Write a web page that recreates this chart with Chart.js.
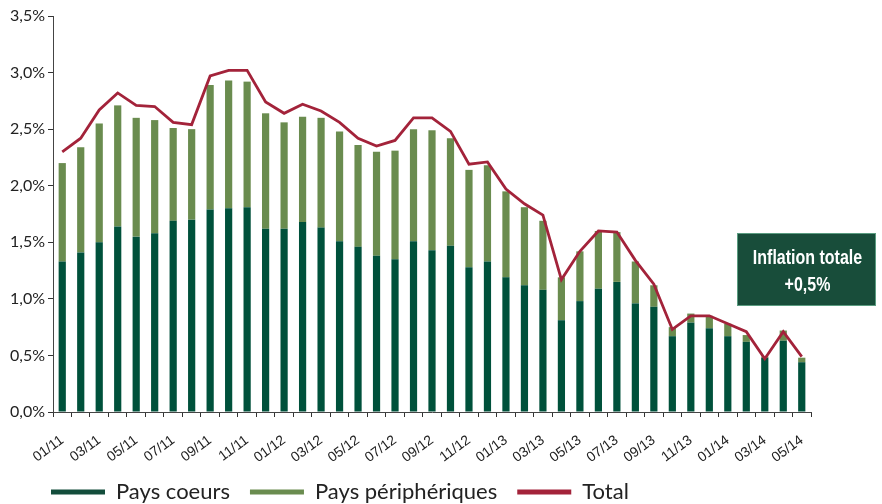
<!DOCTYPE html>
<html><head><meta charset="utf-8">
<script src="https://cdn.jsdelivr.net/npm/chart.js@4"></script>
<style>html,body{margin:0;padding:0;background:#fff}#w{width:882px;height:504px}</style>
</head><body><div id="w"><canvas id="c" width="882" height="504"></canvas></div>
<script>
const months = ["01/11","02/11","03/11","04/11","05/11","06/11","07/11","08/11","09/11","10/11","11/11","12/11",
"01/12","02/12","03/12","04/12","05/12","06/12","07/12","08/12","09/12","10/12","11/12","12/12",
"01/13","02/13","03/13","04/13","05/13","06/13","07/13","08/13","09/13","10/13","11/13","12/13",
"01/14","02/14","03/14","04/14","05/14"];
const paysCoeurs = [1.33,1.41,1.50,1.64,1.55,1.58,1.69,1.70,1.79,1.80,1.81,1.62,1.62,1.68,1.63,1.51,1.46,1.38,1.35,1.51,1.43,1.47,1.28,1.33,1.19,1.12,1.08,0.81,0.98,1.09,1.15,0.96,0.93,0.67,0.79,0.74,0.67,0.62,0.48,0.63,0.44];
const paysPeripheriques = [0.87,0.93,1.05,1.07,1.05,1.00,0.82,0.80,1.10,1.13,1.11,1.02,0.94,0.93,0.97,0.97,0.90,0.92,0.96,0.99,1.06,0.95,0.86,0.85,0.76,0.69,0.61,0.38,0.44,0.51,0.44,0.37,0.19,0.08,0.08,0.11,0.11,0.06,0.01,0.09,0.04];
const total = [2.30,2.42,2.67,2.82,2.71,2.70,2.56,2.54,2.97,3.02,3.02,2.74,2.64,2.72,2.66,2.56,2.42,2.35,2.40,2.60,2.60,2.48,2.19,2.21,1.97,1.84,1.74,1.17,1.42,1.60,1.59,1.34,1.13,0.73,0.85,0.85,0.78,0.71,0.47,0.71,0.49];
const annotationLines = ["Inflation totale","+0,5%"];

const DARK = '#00513b', LIGHT = '#6a8c4f', RED = '#a3233a';

const layoutPlugin = {
  id: 'legendShift',
  afterLayout(chart) {
    const lg = chart.legend;
    if (lg) { lg.left = 31; lg.top += 9; lg.bottom += 9; }
    const xs = chart.scales.x;
    if (xs) xs.bottom += 20;
  }
};

const annotationPlugin = {
  id: 'annot',
  afterDraw(chart) {
    const ctx = chart.ctx, a = chart.chartArea;
    const x = a.right - 74, y = 233, w = 139, h = 73;
    ctx.save();
    ctx.fillStyle = '#184d3a';
    ctx.fillRect(x, y, w, h);
    ctx.strokeStyle = '#5a9c80';
    ctx.lineWidth = 1;
    ctx.strokeRect(x + 0.5, y + 0.5, w - 1, h - 1);
    ctx.fillStyle = '#ffffff';
    ctx.font = 'bold 20px "Liberation Sans", Arial, sans-serif';
    ctx.textAlign = 'center';
    ctx.textBaseline = 'alphabetic';
    const cx = x + w / 2 + 1;
    ctx.translate(cx, 0);
    ctx.scale(0.8, 1);
    ctx.fillText(annotationLines[0], 0, y + 31);
    ctx.fillText(annotationLines[1], 0, y + 58);
    ctx.restore();
  }
};

new Chart(document.getElementById('c'), {
  data: {
    labels: months,
    datasets: [
      { type: 'bar', label: 'Pays coeurs', data: paysCoeurs, backgroundColor: DARK, stack: 'a',
        barPercentage: 0.78, categoryPercentage: 0.5 },
      { type: 'bar', label: 'Pays périphériques', data: paysPeripheriques, backgroundColor: LIGHT, stack: 'a',
        barPercentage: 0.78, categoryPercentage: 0.5 },
      { type: 'line', label: 'Total', data: total, borderColor: RED, backgroundColor: RED, borderWidth: 2.8,
        pointRadius: 0, tension: 0, stack: 'b', order: -1 }
    ]
  },
  options: {
    responsive: false,
    animation: false,
    layout: { padding: { left: 0, right: 71, top: 16, bottom: 0 } },
    plugins: {
      tooltip: { enabled: false },
      legend: {
        position: 'bottom', align: 'start',
        labels: {
          boxWidth: 54, boxHeight: 5, color: '#222', padding: 20,
          font: { family: 'Lato', size: 22 },
          sort: (a, b) => a.datasetIndex - b.datasetIndex,
          generateLabels(chart) {
            const cols = ['#134d3b', '#6a8c4f', RED];
            return chart.data.datasets.map((d, i) => ({
              text: d.label, fillStyle: cols[i],
              strokeStyle: 'rgba(0,0,0,0)', lineWidth: 0, datasetIndex: i, hidden: false, fontColor: '#222'
            }));
          }
        }
      }
    },
    scales: {
      x: {
        stacked: true,
        afterFit(s) { s.height = 40; },
        grid: { display: true, drawOnChartArea: false, drawTicks: true, tickLength: 5, color: '#333' },
        border: { display: true, color: '#444', width: 1 },
        ticks: {
          autoSkip: false, maxRotation: 36, minRotation: 36, color: '#222', padding: 15,
          font: { family: '"Liberation Sans", Arial, sans-serif', size: 14 },
          callback(v, i) { return i % 2 === 0 ? months[i] : ''; }
        }
      },
      y: {
        stacked: true, min: 0, max: 3.5,
        afterFit(s) { s.width = 53; },
        grid: { display: true, drawOnChartArea: false, drawTicks: true, tickLength: 5, color: '#333' },
        border: { display: true, color: '#444', width: 1 },
        ticks: {
          stepSize: 0.5, color: '#222', padding: 3,
          font: { family: 'Lato', size: 16 },
          callback(v) { return v.toFixed(1).replace('.', ',') + '%'; }
        }
      }
    }
  },
  plugins: [layoutPlugin, annotationPlugin]
});
</script></body></html>
